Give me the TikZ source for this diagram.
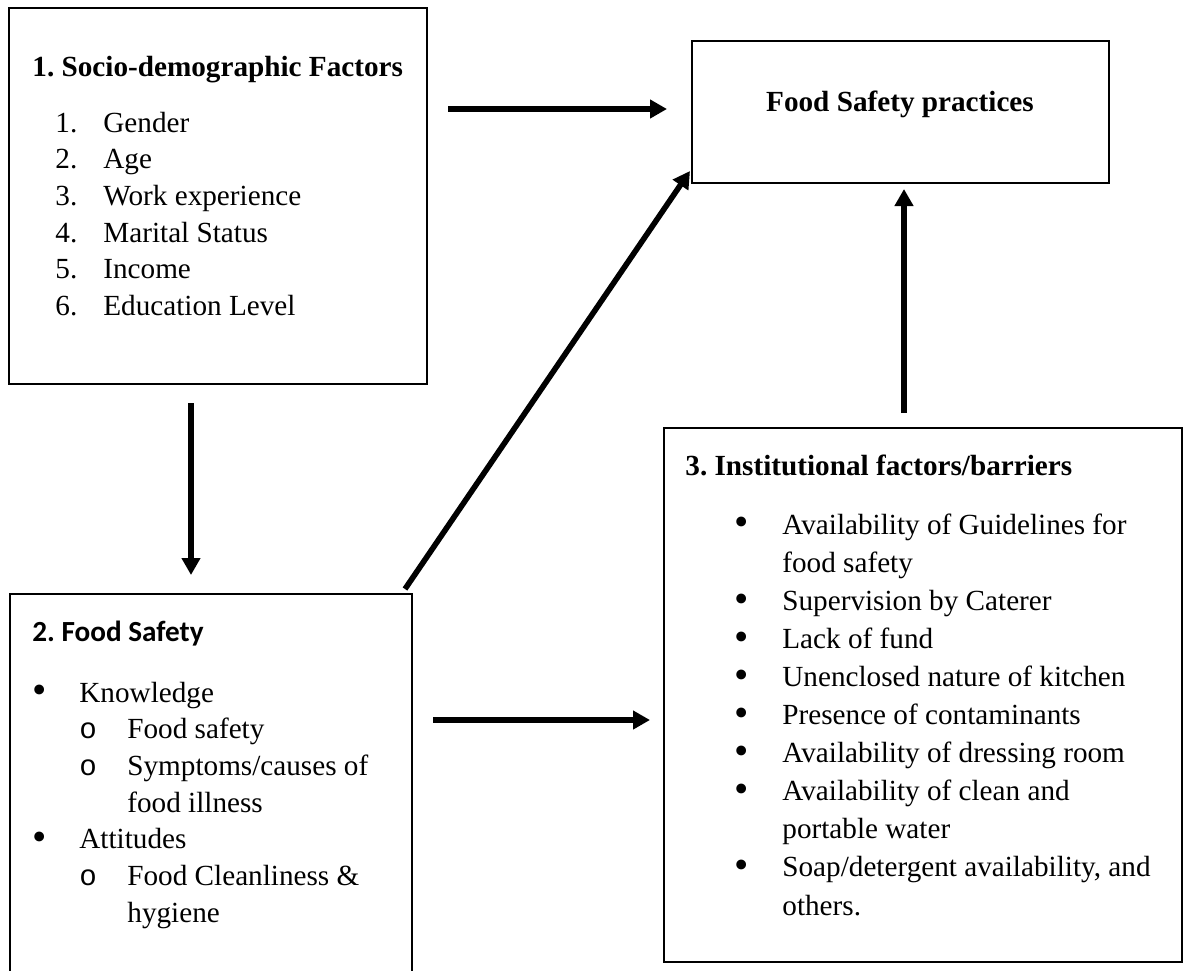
\documentclass[tikz,border=0pt]{standalone}
\usepackage{fontspec}
\setmainfont{Liberation Serif}
\setmonofont{Liberation Mono}
\newfontfamily\calibri{Carlito}
\usetikzlibrary{arrows.meta}
\frenchspacing

\newcommand{\obul}{{\ttfamily o}}
\newcommand{\fbul}{\raisebox{-0.9pt}{\scalebox{1.4}{\textbullet}}}

\tikzset{
  box/.style={draw, line width=1.1pt, inner sep=0pt},
  txt/.style={inner sep=0pt, anchor=base west, font=\fontsize{14.6}{18.35}\selectfont},
  arr/.style={line width=2.8pt, -{Triangle[length=8.5pt,width=9pt]}}
}

\begin{document}
\begin{tikzpicture}[x=0.5pt,y=-0.5pt]
            \useasboundingbox (0,0) rectangle (1184,970);

            % boxes
            \node[box, minimum width=209pt, minimum height=188pt] (socio) at (218,196) {};
            \node[box, minimum width=208.5pt, minimum height=71pt] (fsp) at (900.5,112) {};
            \node[box, minimum width=201pt, minimum height=213pt] (food) at (211,807) {};
            \node[box, minimum width=259pt, minimum height=267pt] (inst) at (923,695) {};

            % arrow ends
            \coordinate (A) at (448,109);
            \coordinate (B) at (667,109);

            \coordinate (C) at (191,403);
            \coordinate (D) at (191,575);

            \coordinate (E) at (405,589);
            \coordinate (F) at (690,171);

            \coordinate (G) at (433,720);
            \coordinate (H) at (650,720);

            \coordinate (I) at (904,413);
            \coordinate (J) at (904,189);

            \draw[arr] (A) -- (B);
            \draw[arr] (C) -- (D);
            \draw[arr] (E) -- (F);
            \draw[arr] (G) -- (H);
            \draw[arr] (I) -- (J);

            % 1. socio-demographic
            \node[txt] (sociotitle) at (32,76) {\bfseries 1. Socio-demographic Factors};
            \node[txt] (sociolist) at (55,132) {\begin{tabular}[t]{@{}p{24pt}@{}l@{}}
                1. & Gender\\
                2. & Age\\
                3. & Work experience\\
                4. & Marital Status\\
                5. & Income\\
                6. & Education Level
            \end{tabular}};

            % food safety practices
            \node[txt, anchor=base] (fsptitle) at (900,111) {\bfseries Food Safety practices};

            % 2. food safety
            \node[txt] (foodtitle) at (32,641) {\calibri\bfseries 2. Food Safety};
            \node[txt] (foodlist) at (32,702) {\begin{tabular}[t]{@{}p{23.5pt}@{}p{24pt}@{}l@{}}
                \fbul & \multicolumn{2}{@{}l@{}}{Knowledge}\\
                & \obul & Food safety\\
                & \obul & Symptoms/causes of\\
                & & food illness\\
                \fbul & \multicolumn{2}{@{}l@{}}{Attitudes}\\
                & \obul & Food Cleanliness \&\\
                & & hygiene
            \end{tabular}};

            % 3. institutional
            \node[txt] (insttitle) at (685,475) {\bfseries 3. Institutional factors/barriers};
            \node[txt, font=\fontsize{14.6}{19.05}\selectfont] (instlist) at (734,534) {\begin{tabular}[t]{@{}p{24pt}@{}l@{}}
                \fbul & Availability of Guidelines for\\
                & food safety\\
                \fbul & Supervision by Caterer\\
                \fbul & Lack of fund\\
                \fbul & Unenclosed nature of kitchen\\
                \fbul & Presence of contaminants\\
                \fbul & Availability of dressing room\\
                \fbul & Availability of clean and\\
                & portable water\\
                \fbul & Soap/detergent availability, and\\
                & others.
            \end{tabular}};
\end{tikzpicture}
\end{document}
